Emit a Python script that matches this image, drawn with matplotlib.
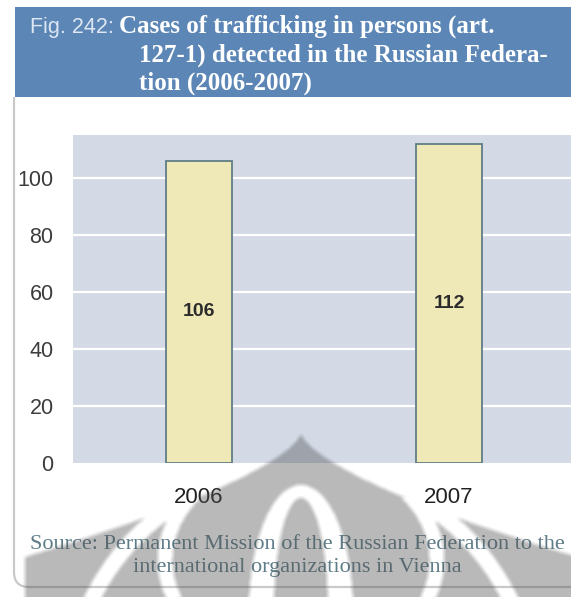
import numpy as np
import matplotlib
matplotlib.use("Agg")
import matplotlib.pyplot as plt
from matplotlib.patches import Rectangle, PathPatch
from matplotlib.path import Path

# data
years = ["2006", "2007"]
cases = [106, 112]
y_ticks = [0, 20, 40, 60, 80, 100]

title_tag = "Fig. 242:"
title_lines = ["Cases of trafficking in persons (art.",
               "127-1) detected in the Russian Federa-",
               "tion (2006-2007)"]
source_lines = ["Source: Permanent Mission of the Russian Federation to the",
                "international organizations in Vienna"]

W, H = 571, 597
BANNER = "#5b86b6"
PLOT_BG = "#d3dae6"
BAR_FILL = "#efe9b7"
BAR_EDGE = "#5f7d86"

fig = plt.figure(figsize=(W / 100, H / 100), dpi=100)
fig.patch.set_facecolor("white")

# page decoration, pixel coordinates with y going down
bg = fig.add_axes([0, 0, 1, 1], zorder=-1)
bg.set_xlim(0, W)
bg.set_ylim(H, 0)
bg.axis("off")

bg.add_patch(Rectangle((15, 7), W, 90, facecolor=BANNER, edgecolor="none"))
frame = Path([(14, 97), (14, 572), (14, 587), (29, 587), (W + 5, 587)],
             [Path.MOVETO, Path.LINETO, Path.CURVE3, Path.CURVE3, Path.LINETO])
bg.add_patch(PathPatch(frame, facecolor="none", edgecolor="#c9c9c9", lw=1.6))

bg.text(30, 33, title_tag, color="#dde6f2", fontsize=15.5, va="baseline",
        family="Liberation Sans")
for i, line in enumerate(title_lines):
    bg.text(119 if i == 0 else 139, 33 + 28.5 * i, line, color="white",
            fontsize=18, fontweight="bold", va="baseline",
            family="Liberation Serif")

for i, line in enumerate(source_lines):
    bg.text(297, 549 + 23 * i, line, color="#5f7d88", fontsize=16,
            ha="center", va="baseline", family="Liberation Serif")

# bar chart
left, top, bottom = 73, 135, 463
ax = fig.add_axes([left / W, (H - bottom) / H, (W - left) / W, (bottom - top) / H])
ax.set_facecolor(PLOT_BG)
x = np.arange(len(years))
ax.bar(x, cases, width=0.264, color=BAR_FILL, edgecolor=BAR_EDGE, lw=1.3, zorder=3)
for xi, v in zip(x, cases):
    ax.text(xi, v / 2, str(v), ha="center", va="center", fontsize=14,
            fontweight="bold", color="#2b2b2b", family="Liberation Sans", zorder=4)

ax.set_xlim(-0.504, 1.488)
ax.set_ylim(0, 115)
ax.set_yticks(y_ticks)
ax.set_xticks(x)
ax.set_xticklabels(years)
for y in y_ticks[1:]:
    ax.axhline(y, color="white", lw=1.6, zorder=1)
for s in ax.spines.values():
    s.set_visible(False)
ax.tick_params(axis="y", length=0, pad=14, labelsize=15.5, labelcolor="#3c3c3c")
ax.tick_params(axis="x", length=0, pad=17, labelsize=16, labelcolor="#222222")
for lab in ax.get_xticklabels() + ax.get_yticklabels():
    lab.set_family("Liberation Sans")

# faint logo watermark over the lower part of the page
yy, xx = np.mgrid[0:H, 0:W] + 0.5
cx = 301
d = yy - 433
half = np.minimum(0.2 * np.clip(d, 0, None) ** 1.5, 276)
mask = (d > 0) & (np.abs(xx - cx) < half)
ring_a = (np.abs(np.hypot(xx - cx, yy - 700) - 232) < 8) & (yy > 500)
rr_b = np.hypot((xx - cx) / 136, (yy - 560) / 105)
ring_b = (np.abs(rr_b - 1) < 0.055) & (yy > 498)
outer_c = np.hypot((xx - cx) / 52, (yy - 610) / 125) < 1
inner_c = np.hypot((xx - cx) / 27, (yy - 610) / 112) < 1
mask &= ~(ring_a | ring_b | (outer_c & ~inner_c))

soft = mask.astype(float)
pad = np.pad(soft, 2, mode="edge")
soft = sum(pad[i:i + H, j:j + W] for i in range(5) for j in range(5)) / 25

rgba = np.zeros((H, W, 4))
rgba[..., :3] = 80 / 255
rgba[..., 3] = soft * 0.40
wm = fig.add_axes([0, 0, 1, 1], zorder=5)
wm.imshow(rgba, extent=(0, W, H, 0), interpolation="bilinear")
wm.set_xlim(0, W)
wm.set_ylim(H, 0)
wm.axis("off")

fig.savefig("out.png", dpi=100)
